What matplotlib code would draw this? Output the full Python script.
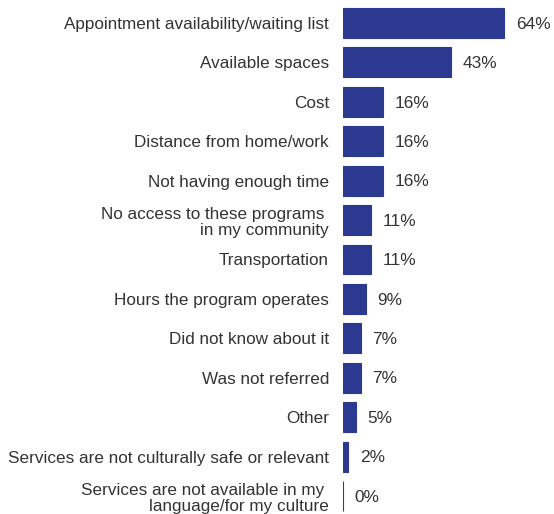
import matplotlib.pyplot as plt
import numpy as np

plt.rcParams['font.family'] = ['Liberation Sans', 'DejaVu Sans']

labels = [
    'Appointment availability/waiting list',
    'Available spaces',
    'Cost',
    'Distance from home/work',
    'Not having enough time',
    'No access to these programs \nin my community',
    'Transportation',
    'Hours the program operates',
    'Did not know about it',
    'Was not referred',
    'Other',
    'Services are not culturally safe or relevant',
    'Services are not available in my \nlanguage/for my culture',
]
values = [64, 43, 16, 16, 16, 11, 11, 9, 7, 7, 5, 2, 0]

navy = '#2b3990'
text_col = '#333333'

fig = plt.figure(figsize=(5.54, 5.14), dpi=100)
ax = fig.add_axes([343 / 554, 0, 211 / 554, 1])

y = np.arange(len(values))
ax.barh(y, values, height=0.76, color=navy, edgecolor=navy, linewidth=0.8)

for yi, v in zip(y, values):
    ax.text(v + 4.6, yi + 0.03, f'{v}%', va='center', ha='left', fontsize=12.4, color=text_col)

ax.set_yticks(y)
ax.set_yticklabels(labels, fontsize=12.3, color=text_col, linespacing=1.15)
ax.tick_params(axis='y', length=0, pad=10)
ax.set_xticks([])
ax.set_xlim(0, 211 / 2.52)
ax.set_ylim(12 + 18 / 39.42, -23 / 39.42)
for s in ax.spines.values():
    s.set_visible(False)

plt.savefig('out.png', dpi=100)
